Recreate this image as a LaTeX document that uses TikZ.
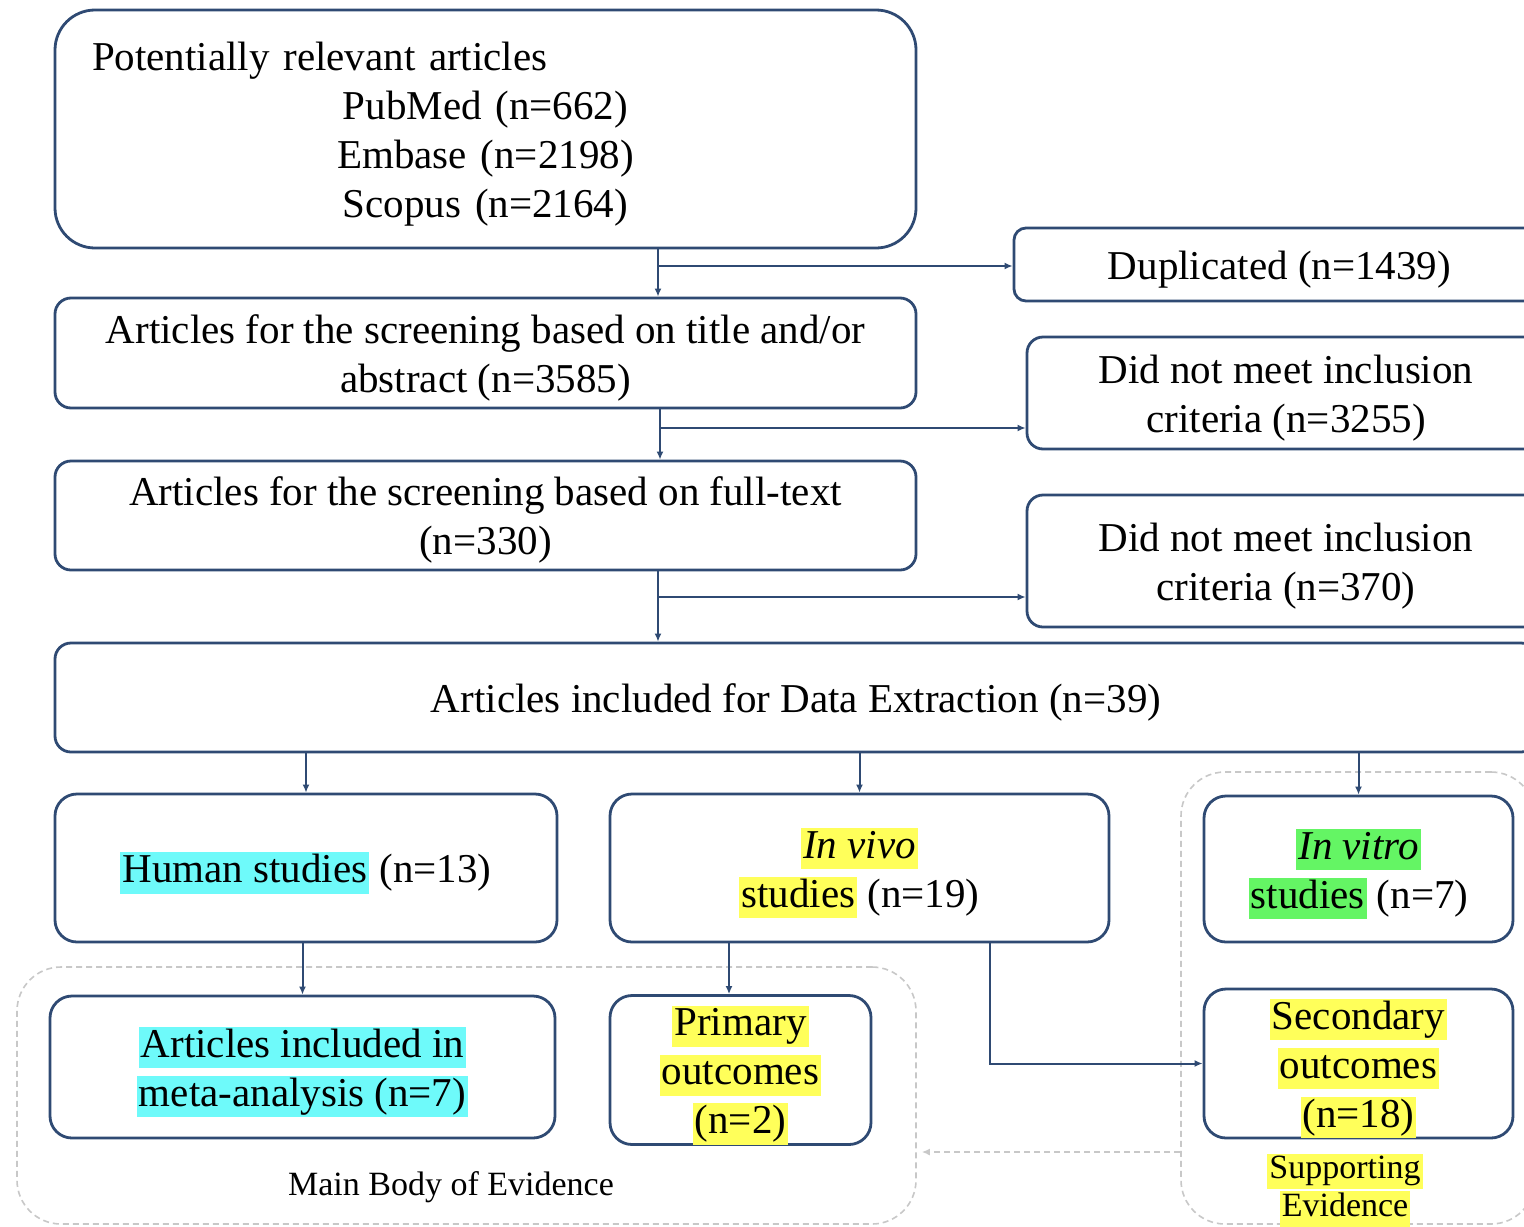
\documentclass[tikz,border=0pt]{standalone}
\usepackage{fontspec}
\setmainfont{Liberation Serif}
\usetikzlibrary{arrows.meta}
\definecolor{navy}{RGB}{47,74,115}
\definecolor{hcyan}{RGB}{110,250,250}
\definecolor{hyel}{RGB}{255,255,90}
\definecolor{hgrn}{RGB}{100,245,100}
\definecolor{dgray}{RGB}{200,200,200}
\newcommand\hlx[2]{{\setlength{\fboxsep}{1pt}\colorbox{#1}{\rule[-4.5pt]{0pt}{18.5pt}#2}}}
\newcommand\hly[2]{{\setlength{\fboxsep}{1pt}\colorbox{#1}{\rule[-4pt]{0pt}{15.5pt}#2}}}
\newcommand\tp{\rule{0pt}{20pt}}
\newcommand\bt{\rule[-5.5pt]{0pt}{5.5pt}}
\begin{document}
\begin{tikzpicture}[x=0.5pt,y=-0.5pt,
  box/.style={draw=navy, line width=1.4pt, fill=white, align=center, inner sep=0pt,
              font=\fontsize{20.5}{24.5}\selectfont},
  conn/.style={draw=navy, line width=1pt, -{Latex[length=4pt,width=3.5pt]}},
  region/.style={draw=dgray, line width=0.8pt, dash pattern=on 3pt off 2pt, rounded corners=22pt, inner sep=0pt},
  lbl/.style={font=\fontsize{17}{19}\selectfont, align=center, inner sep=0pt}
]
\clip (0,0) rectangle (1524,1226);
\fill[white] (0,0) rectangle (1524,1226);

% dashed regions
\node[region, minimum width=449.5pt, minimum height=128.5pt] (mainreg) at (466.5,1095.5) {};
\node[region, minimum width=177pt, minimum height=226pt] (supreg) at (1358,998) {};

% boxes
\node[box, minimum width=430.5pt, minimum height=119pt, rounded corners=20pt, text width=393.5pt] (top) at (485.5,129)
  {\makebox[\linewidth][l]{\tp Potentially relevant articles}\\PubMed (n=662)\\Embase (n=2198)\\Scopus (n=2164)\bt};
\node[box, minimum width=430.5pt, minimum height=55pt, rounded corners=8pt] (scr) at (485.5,353)
  {\tp Articles for the screening based on title and/or\\abstract (n=3585)\bt};
\node[box, minimum width=430.5pt, minimum height=54.5pt, rounded corners=8pt] (full) at (485.5,515.5)
  {\tp Articles for the screening based on full-text\\(n=330)\bt};
\node[box, minimum width=265.5pt, minimum height=36.5pt, rounded corners=6pt] (dup) at (1279.5,264.5)
  {\tp Duplicated (n=1439)\bt};
\node[box, minimum width=259pt, minimum height=56pt, rounded corners=8pt] (dnm1) at (1286,393)
  {\tp Did not meet inclusion\\criteria (n=3255)\bt};
\node[box, minimum width=259pt, minimum height=66pt, rounded corners=8pt] (dnm2) at (1286,561)
  {\tp Did not meet inclusion\\criteria (n=370)\bt};
\node[box, minimum width=741pt, minimum height=54.5pt, rounded corners=8pt] (dex) at (796,697.5)
  {\tp Articles included for Data Extraction (n=39)\bt};
\node[box, minimum width=251pt, minimum height=74pt, rounded corners=11pt] (hum) at (306,868)
  {\tp\hlx{hcyan}{Human studies} (n=13)\bt};
\node[box, minimum width=249.5pt, minimum height=74pt, rounded corners=11pt] (viv) at (859.5,868)
  {\tp\hlx{hyel}{\itshape In vivo}\\\hlx{hyel}{studies} (n=19)\bt};
\node[box, minimum width=154.5pt, minimum height=73pt, rounded corners=11pt] (vit) at (1358.5,869)
  {\tp\hlx{hgrn}{\itshape In vitro}\\\hlx{hgrn}{studies} (n=7)\bt};
\node[box, minimum width=252.5pt, minimum height=71pt, rounded corners=11pt] (meta) at (302.5,1067)
  {\tp\hlx{hcyan}{Articles included in}\\\hlx{hcyan}{meta-analysis (n=7)}\bt};
\node[box, minimum width=130.5pt, minimum height=74pt, rounded corners=11pt] (prim) at (740.5,1070)
  {\tp\hlx{hyel}{Primary}\\\hlx{hyel}{outcomes}\\\hlx{hyel}{(n=2)}\bt};
\node[box, minimum width=154.5pt, minimum height=73.5pt, rounded corners=11pt] (sec) at (1358.5,1063.5)
  {\tp\hlx{hyel}{Secondary}\\\hlx{hyel}{outcomes}\\\hlx{hyel}{(n=18)}\bt};

% region labels
\node[lbl] (mainlbl) at (451,1187) {Main Body of Evidence};
\node[lbl] (suplbl) at (1345,1190) {\hly{hyel}{Supporting}\\\hly{hyel}{Evidence}};

% helper coordinates
\coordinate (xa) at (658,0);
\coordinate (xb) at (660,0);
\coordinate (xp) at (729,0);
\coordinate (xs) at (990,0);
\coordinate (ja) at (658,266);
\coordinate (jb) at (660,428);
\coordinate (jc) at (658,597);
\coordinate (jd) at (0,1152);

% connectors
\draw[conn] (top.south -| xa) -- (scr.north -| xa);
\draw[conn] (ja) -- (ja -| dup.west);
\draw[conn] (scr.south -| xb) -- (full.north -| xb);
\draw[conn] (jb) -- (jb -| dnm1.west);
\draw[conn] (full.south -| xa) -- (dex.north -| xa);
\draw[conn] (jc) -- (jc -| dnm2.west);
\draw[conn] (dex.south -| hum.north) -- (hum.north);
\draw[conn] (dex.south -| viv.north) -- (viv.north);
\draw[conn] (dex.south -| vit.north) -- (vit.north);
\draw[conn] (hum.south -| meta.north) -- (meta.north);
\draw[conn] (viv.south -| xp) -- (prim.north -| xp);
\draw[conn] (viv.south -| xs) |- (sec.west);
\draw[draw=dgray, line width=0.8pt, dash pattern=on 3pt off 2pt, -{Latex[length=4pt,width=3.5pt]}]
  (jd -| supreg.west) -- ([xshift=2.5pt]jd -| mainreg.east);
\end{tikzpicture}
\end{document}
